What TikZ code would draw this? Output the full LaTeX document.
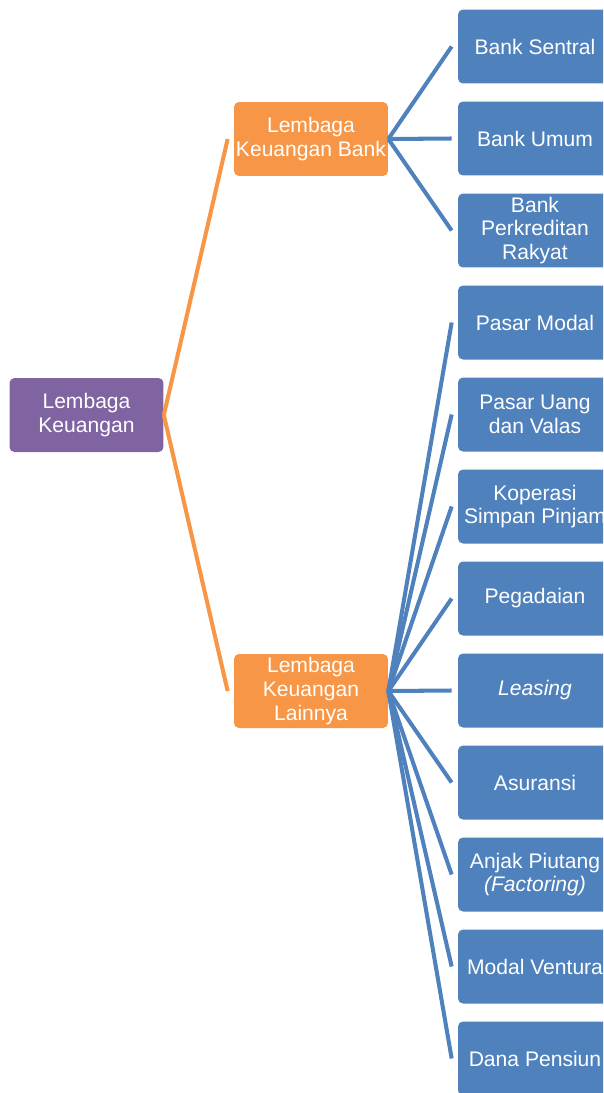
\documentclass[tikz,border=0pt]{standalone}
\usepackage{fontspec}
\setmainfont{Liberation Sans}
\definecolor{rootcol}{HTML}{8064A2}
\definecolor{midcol}{HTML}{F79646}
\definecolor{leafcol}{HTML}{4F81BD}
\begin{document}
\begin{tikzpicture}[x=0.02cm,y=-0.02cm,
    box/.style={rounded corners=0.1cm,minimum width=3.08cm,minimum height=1.48cm,
        text=white,align=center,inner sep=1pt,font=\fontsize{12}{13.4}\selectfont},
    rootbox/.style={box,fill=rootcol},
    midbox/.style={box,fill=midcol},
    leafbox/.style={box,fill=leafcol},
    midline/.style={midcol,line width=2.3pt},
    leafline/.style={leafcol,line width=2.3pt}]
        \clip (0,0) rectangle (603,1093);

        \node[rootbox] (root) at (86.5,415){Lembaga\\Keuangan};
        \node[midbox] (bank) at (311,139){Lembaga\\Keuangan Bank};
        \node[midbox] (lain) at (311,691){Lembaga\\Keuangan\\Lainnya};

        \node[leafbox] (sentral) at (535,46.5){Bank Sentral};
        \node[leafbox] (umum) at (535,138.5){Bank Umum};
        \node[leafbox] (bpr) at (535,230.5){Bank\\Perkreditan\\Rakyat};

        \node[leafbox] (modal) at (535,322.5){Pasar Modal};
        \node[leafbox] (uang) at (535,414.5){Pasar Uang\\dan Valas};
        \node[leafbox] (kop) at (535,506.5){Koperasi\\Simpan Pinjam};
        \node[leafbox] (gadai) at (535,598.5){Pegadaian};
        \node[leafbox] (leasing) at (535,690.5){\itshape Leasing};
        \node[leafbox] (asuransi) at (535,782.5){Asuransi};
        \node[leafbox] (anjak) at (535,874.5){Anjak Piutang\\\itshape(Factoring)};
        \node[leafbox] (ventura) at (535,966.5){Modal Ventura};
        \node[leafbox] (pensiun) at (535,1058.5){Dana Pensiun};

        \draw[midline] (root.east) -- ([xshift=-0.12cm]bank.west);
        \draw[midline] (root.east) -- ([xshift=-0.12cm]lain.west);

        \draw[leafline] (bank.east) -- ([xshift=-0.12cm]sentral.west);
        \draw[leafline] (bank.east) -- ([xshift=-0.12cm]umum.west);
        \draw[leafline] (bank.east) -- ([xshift=-0.12cm]bpr.west);

        \draw[leafline] (lain.east) -- ([xshift=-0.12cm]modal.west);
        \draw[leafline] (lain.east) -- ([xshift=-0.12cm]uang.west);
        \draw[leafline] (lain.east) -- ([xshift=-0.12cm]kop.west);
        \draw[leafline] (lain.east) -- ([xshift=-0.12cm]gadai.west);
        \draw[leafline] (lain.east) -- ([xshift=-0.12cm]leasing.west);
        \draw[leafline] (lain.east) -- ([xshift=-0.12cm]asuransi.west);
        \draw[leafline] (lain.east) -- ([xshift=-0.12cm]anjak.west);
        \draw[leafline] (lain.east) -- ([xshift=-0.12cm]ventura.west);
        \draw[leafline] (lain.east) -- ([xshift=-0.12cm]pensiun.west);
    \end{tikzpicture}
\end{document}
